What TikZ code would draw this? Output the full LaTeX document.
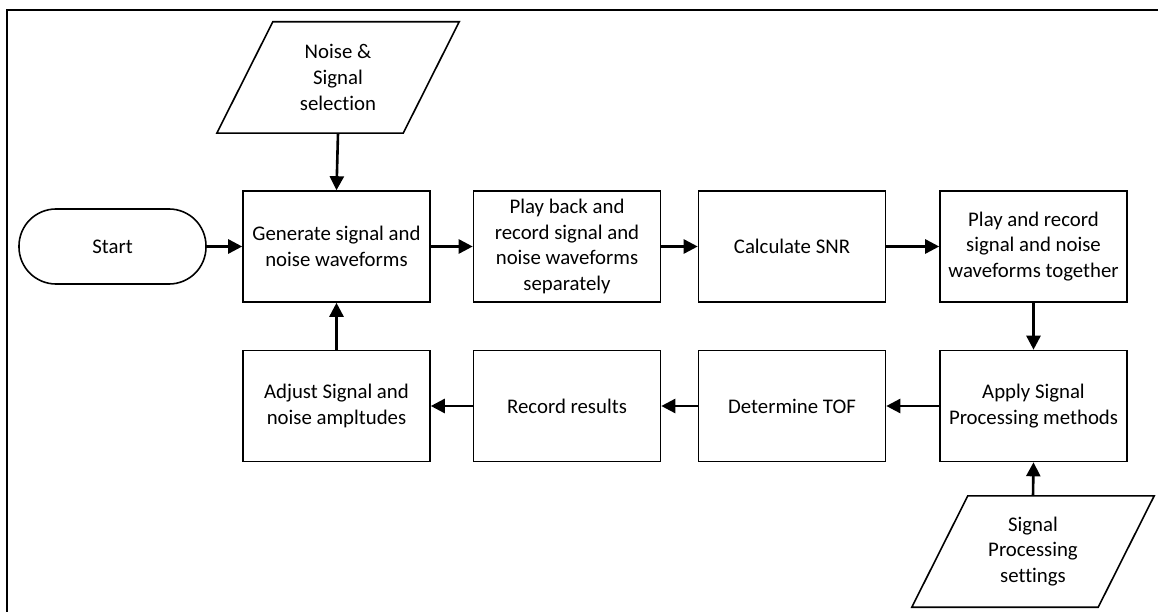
\documentclass[tikz,border=0pt]{standalone}
\usepackage{fontspec}
\setmainfont{Carlito}[Ligatures=NoCommon]
\usetikzlibrary{arrows.meta,calc}

\tikzset{
  stepbox/.style={draw, line width=1.6pt, minimum width=187pt, minimum height=111pt,
    inner sep=0pt, align=center, font=\fontsize{20.8}{25.7}\selectfont},
  terminal/.style={draw, line width=1.6pt, minimum width=187pt, minimum height=75pt,
    rounded corners=37pt, inner sep=0pt, align=center, font=\fontsize{20.8}{25.7}\selectfont},
  iobox/.style={minimum width=242pt, minimum height=111pt, inner sep=0pt, align=center,
    font=\fontsize{20.8}{25.7}\selectfont},
  ioedge/.style={line width=1.6pt, line join=miter},
  flow/.style={line width=2.6pt, -{Triangle[length=14pt,width=14pt]}},
}

% draws a parallelogram (top edge shifted right) inside the bounding box of node #1
\newcommand{\ioshape}[1]{%
  \draw[ioedge] ($(#1.north west)+(56,0)$) -- (#1.north east)
    -- ($(#1.south east)+(-56,0)$) -- (#1.south west) -- cycle;}

\begin{document}
\begin{tikzpicture}[x=1pt,y=-1pt]
\useasboundingbox (0,0) rectangle (1158,612);

% outer frame (left and top edges)
\draw[line width=2pt] (7,612) -- (7,10) -- (1158,10);

% upper row
\node[terminal] (start) at (112.5,246.5) {Start};
\node[stepbox] (gen)  at (336.5,246.5) {Generate signal and\\noise waveforms};
\node[stepbox] (play) at (567,246.5) {Play back and\\record signal and\\noise waveforms\\separately};
\node[stepbox] (snr)  at (792,246.5) {Calculate SNR};
\node[stepbox] (both) at (1033.5,246.5) {Play and record\\signal and noise\\waveforms together};

% lower row
\node[stepbox] (apply)  at (1033.5,406) {Apply Signal\\Processing methods};
\node[stepbox] (tof)    at (792,406) {Determine TOF};
\node[stepbox] (result) at (567,406) {Record results};
\node[stepbox] (adjust) at (336.5,406) {Adjust Signal and\\noise ampltudes};

% inputs
\node[iobox] (sel) at (338,77.5) {Noise \&\\Signal\\selection};
\ioshape{sel}
\node[iobox] (sps) at (1033,551.5) {Signal\\Processing\\settings};
\ioshape{sps}

% connectors
\draw[flow] (sel.south) -- (gen.north);
\draw[flow] (start.east) -- (gen.west);
\draw[flow] (gen.east) -- (play.west);
\draw[flow] (play.east) -- (snr.west);
\draw[flow] (snr.east) -- (both.west);
\draw[flow] (both.south) -- (apply.north);
\draw[flow] (apply.west) -- (tof.east);
\draw[flow] (tof.west) -- (result.east);
\draw[flow] (result.west) -- (adjust.east);
\draw[flow] (adjust.north) -- (gen.south);
\draw[flow] (sps.north) -- (apply.south);
\end{tikzpicture}
\end{document}
